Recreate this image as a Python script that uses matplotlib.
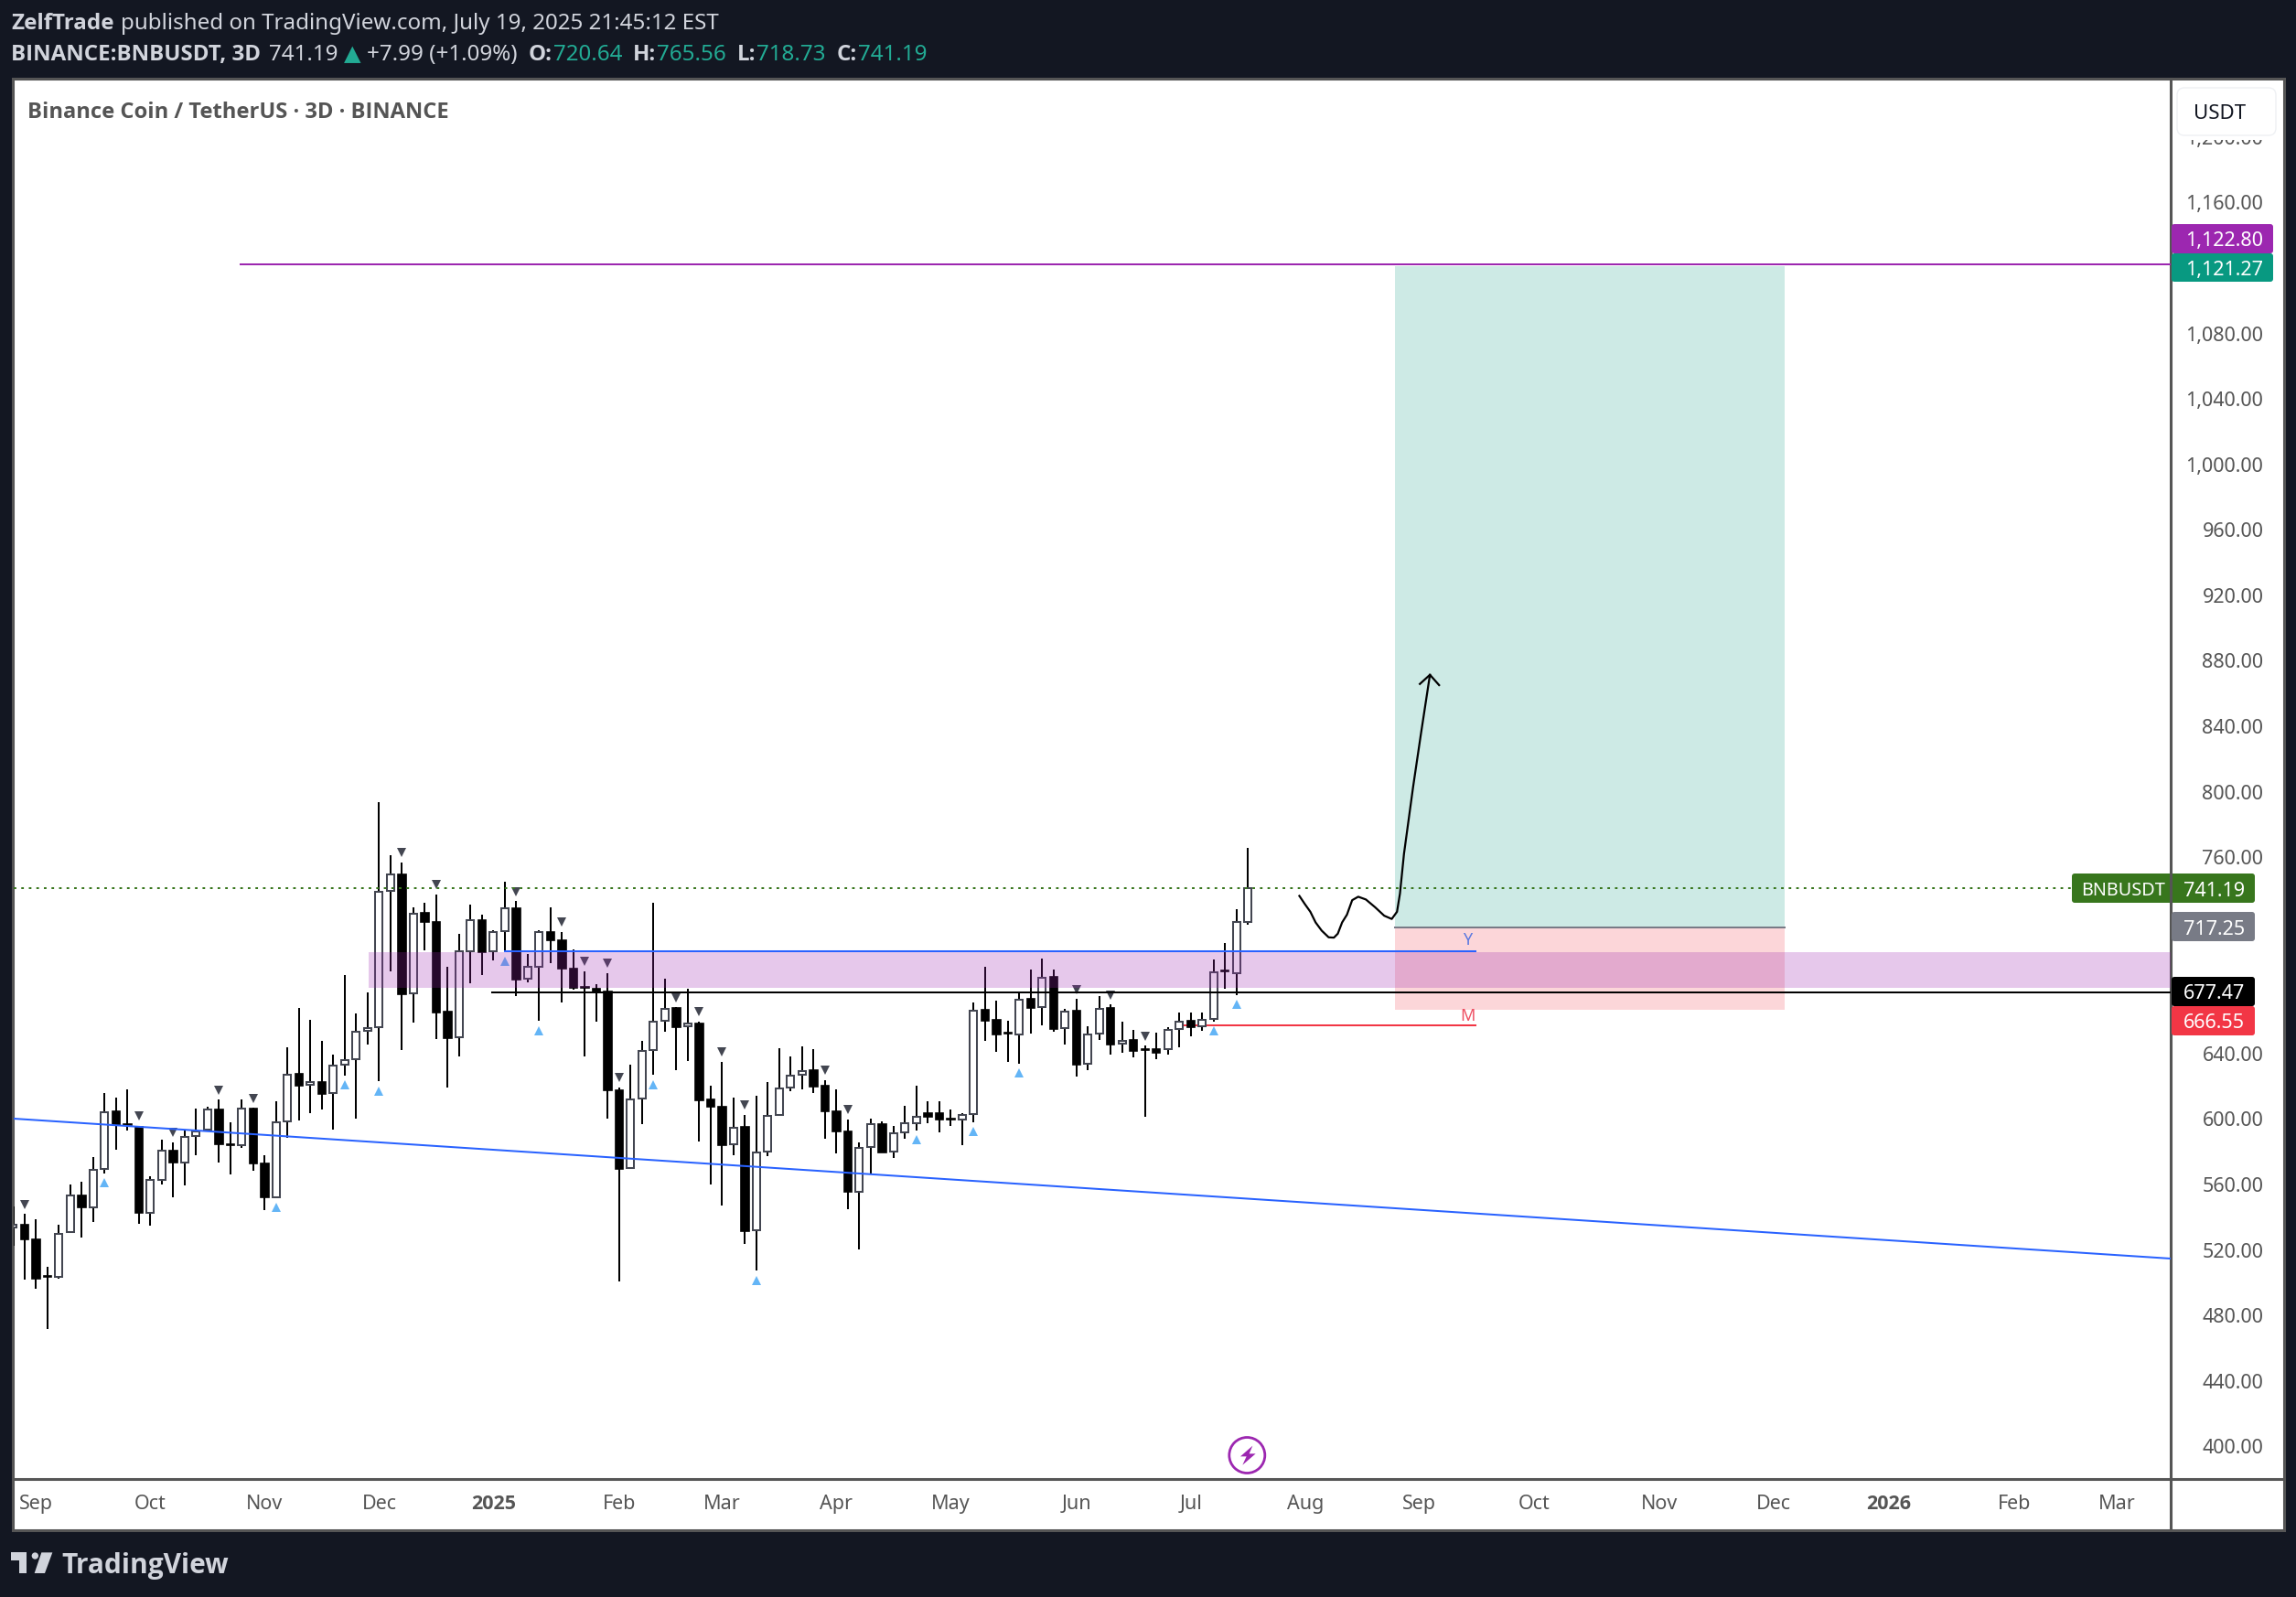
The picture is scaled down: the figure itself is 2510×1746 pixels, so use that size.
import matplotlib
matplotlib.use("Agg")
import matplotlib.pyplot as plt
from matplotlib.patches import Rectangle, FancyBboxPatch, Polygon, Circle
import numpy as np

plt.rcParams['font.family'] = ['Noto Sans', 'DejaVu Sans']
BOLD = ['Open Sans', 'DejaVu Sans']

W, H = 2510, 1746
BG = '#131722'
TXT = '#d1d4dc'
GREY = '#555555'
TEAL = '#22ab94'

# candles, 3D bars, first one is cut by the left edge of the chart
opens = [533.7, 535.6, 526.6, 503.8, 503.4, 530.8, 553.5, 546.2, 569.2, 604.4, 596.9, 595.3, 542.9, 563.0, 580.9, 573.6,
         589.6, 593.3, 605.9, 584.5, 583.8, 606.6, 573.0, 552.4, 598.4, 627.4, 620.7, 622.7, 615.6, 632.9, 636.4, 653.7,
         656.1, 739.2, 749.6, 676.6, 725.7, 720.6, 665.4, 649.7, 702.7, 721.7, 702.3, 714.7, 729.0, 685.5, 693.2, 714.4,
         709.4, 692.1, 680.8, 679.7, 678.0, 617.8, 569.9, 612.3, 641.9, 659.8, 667.6, 656.5, 658.5, 611.7, 607.7, 584.3,
         594.9, 531.9, 580.1, 602.2, 619.0, 627.1, 629.6, 620.1, 604.8, 592.6, 555.7, 582.7, 597.1, 580.1, 591.6, 597.2,
         603.3, 603.3, 600.3, 599.4, 602.8, 666.5, 660.3, 652.5, 651.6, 673.2, 668.2, 686.6, 655.3, 665.9, 633.5, 651.9,
         667.6, 646.0, 648.0, 642.4, 642.4, 642.4, 654.7, 659.8, 656.4, 660.9, 690.5, 689.0, 720.64]
highs = [546.7, 541.8, 538.5, 509.8, 535.6, 559.7, 561.9, 577.0, 616.1, 613.2, 618.3, 596.0, 565.2, 587.1, 585.8, 593.1,
         606.6, 607.2, 611.7, 598.2, 612.1, 606.8, 577.6, 611.0, 643.9, 667.6, 660.3, 647.5, 639.5, 687.7, 664.7, 677.1,
         793.3, 760.9, 756.9, 729.5, 731.9, 737.4, 693.2, 712.9, 731.2, 724.6, 715.5, 745.2, 733.0, 701.0, 715.1, 729.5,
         714.4, 703.8, 690.3, 682.6, 689.2, 619.4, 633.3, 647.9, 731.9, 685.9, 668.2, 679.7, 659.6, 620.1, 635.1, 612.8,
         602.6, 613.9, 622.7, 643.5, 638.0, 644.6, 642.4, 623.8, 618.3, 599.9, 585.8, 600.4, 598.8, 596.0, 608.3, 620.1,
         610.6, 610.6, 605.6, 603.3, 671.0, 692.8, 672.1, 659.8, 677.7, 691.1, 697.8, 691.1, 667.0, 673.2, 656.4, 674.9,
         669.8, 659.2, 654.2, 644.7, 652.5, 655.9, 664.8, 664.8, 664.8, 697.2, 707.3, 728.0, 765.56]
lows = [522.4, 501.8, 496.1, 471.5, 502.5, 530.8, 527.4, 537.2, 566.8, 581.4, 593.1, 535.8, 535.0, 559.9, 552.0, 559.3,
        577.8, 593.1, 573.4, 565.9, 582.5, 568.3, 544.2, 551.8, 588.7, 599.1, 603.5, 605.7, 593.3, 626.5, 600.2, 645.5,
        622.9, 690.1, 641.9, 658.7, 702.9, 649.0, 619.2, 638.2, 682.8, 687.9, 696.8, 702.3, 675.1, 683.3, 659.8, 695.2,
        671.1, 678.9, 638.2, 659.4, 600.2, 500.7, 569.7, 596.6, 626.9, 653.2, 629.8, 635.3, 586.0, 559.9, 546.9, 577.8,
        523.5, 507.3, 577.2, 601.9, 617.2, 618.1, 615.6, 587.8, 578.9, 544.7, 520.2, 566.3, 579.4, 576.1, 588.0, 592.9,
        597.4, 591.8, 595.7, 584.1, 597.9, 647.7, 641.0, 634.8, 633.7, 652.1, 657.2, 653.2, 645.4, 625.9, 629.8, 648.2,
        639.3, 640.4, 637.6, 601.3, 636.5, 639.5, 643.7, 650.5, 653.8, 659.4, 679.5, 675.6, 718.73]
closes = [535.4, 526.6, 502.5, 503.4, 529.9, 553.3, 546.0, 569.0, 604.1, 596.4, 596.2, 542.5, 562.8, 580.7, 573.4, 589.1,
          592.4, 605.7, 584.7, 583.8, 606.4, 573.0, 552.2, 598.0, 627.1, 620.5, 622.5, 615.4, 632.7, 636.0, 653.2, 655.6,
          738.8, 749.4, 676.4, 725.5, 720.4, 665.1, 649.5, 702.5, 721.5, 702.1, 714.2, 728.8, 685.3, 693.0, 714.2, 709.1,
          691.7, 680.0, 680.2, 677.7, 617.4, 569.7, 611.9, 641.5, 659.4, 667.4, 656.1, 658.3, 611.4, 607.5, 584.0, 594.6,
          531.7, 579.6, 601.9, 618.7, 626.2, 629.3, 619.6, 604.8, 592.4, 555.5, 582.3, 596.9, 579.6, 591.1, 597.4, 601.5,
          601.5, 599.8, 599.8, 602.4, 666.3, 660.1, 651.8, 651.9, 673.0, 668.0, 686.4, 655.1, 665.7, 633.3, 651.8, 667.4,
          645.6, 647.8, 641.7, 641.9, 640.6, 654.6, 659.4, 656.2, 660.5, 689.8, 690.0, 720.5, 741.19]
bar_index = np.arange(-1, len(closes) - 1)

# bars carrying the small triangles
pivot_high = [0, 10, 13, 17, 20, 33, 36, 43, 47, 49, 51, 52, 57, 59, 61, 63, 70, 72, 92, 95, 98]
pivot_low = [7, 22, 28, 31, 42, 45, 55, 64, 78, 83, 87, 104, 106]

# prices of the drawings
target = 1121.27
target_line = 1122.3
entry = 717.25
stop = 666.55
last_price = 741.19
zone_top, zone_bottom = 701.9, 680.0
blue_level = 702.5
black_level = 677.47
red_level = 657.3

# long trendline, (bar, price)
trend_x = [-0.96, 187.7]
trend_y = [600.2, 514.7]

# hand drawn path
path_x = [111.49, 111.97, 112.45, 112.91, 113.44, 114.05, 114.51, 114.85, 115.23, 115.65, 116.11, 116.64,
          117.31, 118.11, 118.91, 119.57, 120.03, 120.29, 120.64, 121.04, 121.44, 122.11, 122.91]
path_y = [736.3, 731.3, 726.6, 720.1, 715.1, 711.0, 710.8, 713.2, 720.1, 724.8, 733.7, 735.8,
          734.1, 729.4, 724.2, 722.2, 726.6, 737.8, 762.0, 782.5, 803.0, 834.7, 871.4]
head_x = [122.03, 122.91, 123.71]
head_y = [865.8, 871.4, 865.1]

price_ticks = [400, 440, 480, 520, 560, 600, 640, 760, 800, 840, 880, 920, 960, 1000, 1040, 1080, 1160, 1200]
month_ticks = [1, 11, 21, 31, 41, 52, 61, 71, 81, 92, 102, 112, 122, 132, 143, 153, 163, 174, 183]
month_labels = ['Sep', 'Oct', 'Nov', 'Dec', '2025', 'Feb', 'Mar', 'Apr', 'May', 'Jun', 'Jul', 'Aug',
                'Sep', 'Oct', 'Nov', 'Dec', '2026', 'Feb', 'Mar']

fig = plt.figure(figsize=(W / 100, H / 100), dpi=100, facecolor=BG)

# white panel behind everything
bg = fig.add_axes([0, 0, 1, 1], zorder=0)
bg.set_xlim(0, W)
bg.set_ylim(H, 0)
bg.axis('off')
bg.add_patch(Rectangle((13.5, 86), 2483.5, 1587, facecolor='white', edgecolor=GREY, lw=2.2))
bg.plot([2373, 2373], [86, 1673], color=GREY, lw=2.2)
bg.plot([13.5, 2497], [1617, 1617], color=GREY, lw=2.2)

# main chart, x is the bar number
left, right, top, bottom = 15, 2373, 87, 1617
ax = fig.add_axes([left / W, 1 - bottom / H, (right - left) / W, (bottom - top) / H], zorder=1)
ax.patch.set_alpha(0)
ax.set_xlim(-0.96, 187.7)
ax.set_ylim(380.0, 1235.1)
for s in ax.spines.values():
    s.set_visible(False)

ax.yaxis.tick_right()
ax.set_yticks(price_ticks, [f'{p:,.2f}' for p in price_ticks])
ax.set_xticks(month_ticks, month_labels)
ax.tick_params(axis='y', length=0, pad=73, labelsize=15.5, labelcolor=GREY)
ax.tick_params(axis='x', length=0, pad=12.5, labelsize=15.5, labelcolor=GREY)
for lab in ax.get_yticklabels():
    lab.set_ha('right')
for lab in ax.get_xticklabels():
    if lab.get_text() in ('2025', '2026'):
        lab.set_family(BOLD)
        lab.set_fontweight('bold')

o = np.array(opens)
c = np.array(closes)
up = c >= o
ax.vlines(bar_index, lows, highs, color='black', lw=1.45, zorder=2)
ax.bar(bar_index[up], (c - o)[up], bottom=o[up], width=0.64, facecolor='white', edgecolor='#434651', lw=1.45, zorder=3)
ax.bar(bar_index[~up], (c - o)[~up], bottom=o[~up], width=0.66, facecolor='black', edgecolor='black', lw=1.2, zorder=3)

marker_gap = 5.8
h = np.array(highs)
l = np.array(lows)
ax.plot(pivot_high, h[np.array(pivot_high) + 1] + marker_gap, 'v', ms=6.5, color='#434651', mew=0, zorder=4)
ax.plot(pivot_low, l[np.array(pivot_low) + 1] - marker_gap, '^', ms=6.5, color='#64b5f6', mew=0, zorder=4)

# position box
box_l, box_r = 119.84, 153.95
ax.add_patch(Rectangle((box_l, entry), box_r - box_l, target - entry, facecolor='#089981', alpha=0.2, lw=0, zorder=1))
ax.add_patch(Rectangle((box_l, stop), box_r - box_l, entry - stop, facecolor='#f23645', alpha=0.2, lw=0, zorder=1))
ax.plot([box_l, box_r], [entry, entry], color='#787b86', lw=1.45, zorder=5)

# zone and levels
ax.add_patch(Rectangle((30.08, zone_bottom), 187.7 - 30.08, zone_top - zone_bottom,
                       facecolor='#9c27b0', alpha=0.25, lw=0, zorder=5))
ax.plot([42, 126.9], [blue_level, blue_level], color='#2962ff', lw=1.45, zorder=6)
ax.plot([40.9, 187.7], [black_level, black_level], color='black', lw=1.45, zorder=6)
ax.plot([101.3, 126.9], [red_level, red_level], color='#f23645', lw=1.45, zorder=1.5)
ax.plot([18.9, 187.7], [target_line, target_line], color='#9c27b0', lw=1.45, zorder=6)
ax.plot(trend_x, trend_y, color='#2962ff', lw=1.45, zorder=6)
ax.plot([-0.96, 180], [last_price, last_price], color='#38761d', lw=1.45, ls=(0, (1.4, 2.7)), zorder=6)
ax.text(126.2, 709, 'Y', color='#5a78e0', fontsize=13, ha='center', va='center', zorder=7)
ax.text(126.2, 662.7, 'M', color='#ee4f62', fontsize=13, ha='center', va='center', zorder=7)

# sketch of the expected move
ax.plot(path_x, path_y, color='black', lw=1.6, zorder=7)
ax.plot(head_x, head_y, color='black', lw=1.6, zorder=7)

# overlay in pixels for header, tags and logo
ov = fig.add_axes([0, 0, 1, 1], zorder=2)
ov.set_xlim(0, W)
ov.set_ylim(H, 0)
ov.axis('off')
ov.patch.set_alpha(0)
renderer = fig.canvas.get_renderer()


def run(x, y, parts, size=17.4):
    for s, color, weight, gap in parts:
        fam = BOLD if weight == 'bold' else plt.rcParams['font.family']
        t = ov.text(x, y, s, color=color, fontweight=weight, fontsize=size, family=fam, va='baseline', ha='left')
        x += t.get_window_extent(renderer).width + gap


run(12, 32, [('ZelfTrade', TXT, 'bold', 7),
             ('published on TradingView.com, July 19, 2025 21:45:12 EST', TXT, 'normal', 0)])
run(12, 66, [('BINANCE:BNBUSDT, 3D', TXT, 'bold', 9),
             ('741.19', TXT, 'normal', 6),
             ('▲', TEAL, 'normal', 7),
             ('+7.99 (+1.09%)', TXT, 'normal', 12),
             ('O:', TXT, 'bold', 1), ('720.64', TEAL, 'normal', 12),
             ('H:', TXT, 'bold', 1), ('765.56', TEAL, 'normal', 12),
             ('L:', TXT, 'bold', 1), ('718.73', TEAL, 'normal', 12),
             ('C:', TXT, 'bold', 1), ('741.19', TEAL, 'normal', 0)])
run(30, 129, [('Binance Coin / TetherUS · 3D · BINANCE', '#555555', 'bold', 0)], size=17.1)

# USDT button hides the top label
ov.add_patch(Rectangle((2375, 88), 120, 65, facecolor='white', lw=0))
ov.add_patch(FancyBboxPatch((2380, 96), 108, 52, boxstyle='round,pad=0,rounding_size=8',
                            facecolor='white', edgecolor='#eef0f3', lw=1))
ov.text(2398, 130, 'USDT', color=BG, fontsize=16, va='baseline', ha='left')

tags = [(2374, 2485, 245, 277, '#9c27b0', '1,122.80', 2474),
        (2374, 2485, 277, 308, '#089981', '1,121.27', 2474),
        (2265, 2465, 955, 987, '#38761d', '741.19', 2454),
        (2374, 2465, 997, 1029, '#787b86', '717.25', 2454),
        (2374, 2465, 1068, 1100, '#000000', '677.47', 2454),
        (2374, 2465, 1100, 1132, '#f23645', '666.55', 2454)]
for x0, x1, y0, y1, col, label, tx in tags:
    ov.add_patch(FancyBboxPatch((x0, y0), x1 - x0, y1 - y0, boxstyle='round,pad=0,rounding_size=3',
                                facecolor=col, edgecolor='none'))
    ov.text(tx, (y0 + y1) / 2 + 0.5, label, color='white', fontsize=15.5, ha='right', va='center_baseline')
ov.text(2275, 971.5, 'BNBUSDT', color='white', fontsize=14.3, ha='left', va='center_baseline')
ov.plot([2373, 2373], [955, 987], color=GREY, lw=2.2)

# lightning badge
ov.add_patch(Circle((1363.3, 1591), 19.5, facecolor='none', edgecolor='#9c27b0', lw=2))
bolt = np.array([(118, 62), (78, 97), (98, 97), (85, 125), (128, 88), (107, 88)]) / 3 + (1330, 1560)
ov.add_patch(Polygon(bolt, closed=True, facecolor='#9c27b0', lw=0))

# TradingView logo
ov.add_patch(Polygon(np.array([(36, 52), (88, 52), (88, 120), (63, 120), (63, 78), (36, 78)]) / 3 + (0, 1680),
                     closed=True, facecolor=TXT, lw=0))
ov.add_patch(Circle((115 / 3, 1680 + 63 / 3), 11 / 3, facecolor=TXT, lw=0))
ov.add_patch(Polygon(np.array([(136, 52), (172, 52), (147, 120), (113, 120)]) / 3 + (0, 1680),
                     closed=True, facecolor=TXT, lw=0))
ov.text(67, 1720, 'TradingView', color=TXT, fontsize=21.5, fontweight='bold', family='Open Sans', va='baseline', ha='left')

fig.savefig('out.png', dpi=100, facecolor=BG)
